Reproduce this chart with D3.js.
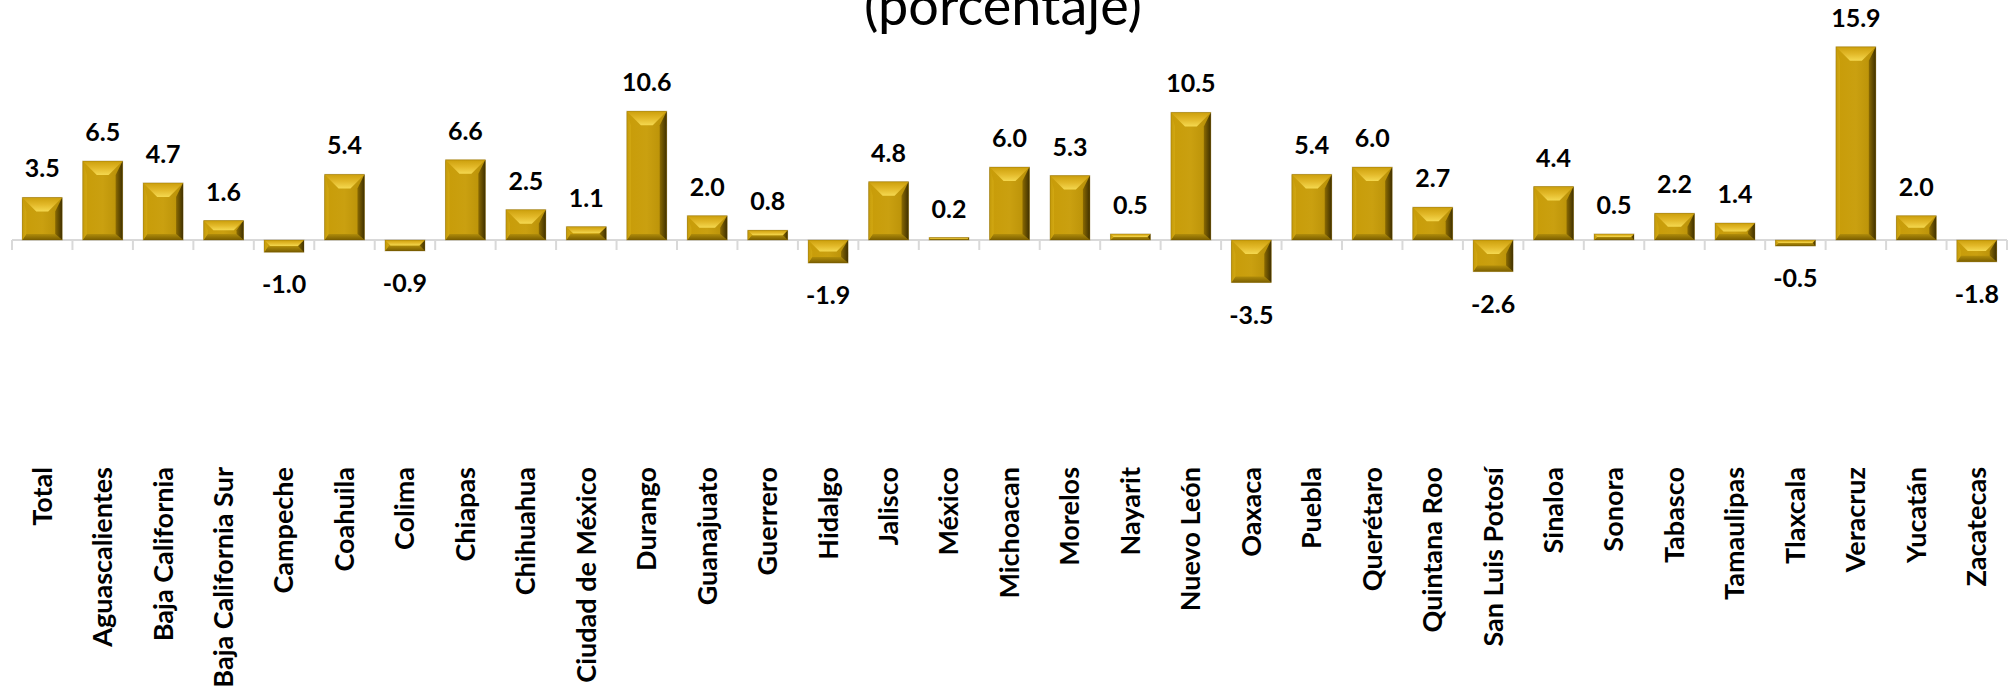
<!DOCTYPE html>
<html><head><meta charset="utf-8">
<script src="https://cdn.jsdelivr.net/npm/d3@7"></script>
<style>html,body{margin:0;padding:0;background:#fff;}svg{display:block;}</style>
</head><body>
<script>
const categories = ["Total","Aguascalientes","Baja California","Baja California Sur","Campeche","Coahuila","Colima","Chiapas","Chihuahua","Ciudad de México","Durango","Guanajuato","Guerrero","Hidalgo","Jalisco","México","Michoacan","Morelos","Nayarit","Nuevo León","Oaxaca","Puebla","Querétaro","Quintana Roo","San Luis Potosí","Sinaloa","Sonora","Tabasco","Tamaulipas","Tlaxcala","Veracruz","Yucatán","Zacatecas"];
const values = [3.5,6.5,4.7,1.6,-1.0,5.4,-0.9,6.6,2.5,1.1,10.6,2.0,0.8,-1.9,4.8,0.2,6.0,5.3,0.5,10.5,-3.5,5.4,6.0,2.7,-2.6,4.4,0.5,2.2,1.4,-0.5,15.9,2.0,-1.8];
const titleText = "(porcentaje)";

const W = 2013, H = 691;
const svg = d3.select("body").append("svg").attr("width", W).attr("height", H);
const defs = svg.append("defs");
function grad(id, x1,y1,x2,y2, stops){
  const g = defs.append("linearGradient").attr("id", id).attr("x1",x1).attr("y1",y1).attr("x2",x2).attr("y2",y2);
  stops.forEach(s=>g.append("stop").attr("offset", s[0]).attr("stop-color", s[1]));
}
grad("gFace","0","0","1","0",[[0,"#c89c08"],[0.5,"#caa010"],[1,"#b68e06"]]);
grad("gTop","0","1","0","0",[[0,"#f4d850"],[0.5,"#e2b828"],[1,"#cc9f0c"]]);
grad("gLeft","1","0","0","0",[[0,"#d2a812"],[1,"#c49a0a"]]);
grad("gRight","0","0","1","0",[[0,"#8a6a02"],[1,"#3f3000"]]);
grad("gBottom","0","0","0","1",[[0,"#b08c0a"],[1,"#7a5e00"]]);

const x = d3.scaleBand().domain(categories).range([12, 2007]).paddingInner(0.34).paddingOuter(0.17);
const y = d3.scaleLinear().domain([-4, 16]).range([240 + 4*12.15, 240 - 16*12.15]);

// title
svg.append("text").attr("x", 1003).attr("y", 25).attr("text-anchor","middle")
  .attr("font-family","Lato, sans-serif").attr("font-size", 54).attr("fill","#000").text(titleText);

// axis
const y0 = y(0);
const ax = svg.append("g");
ax.append("line").attr("x1", x.range()[0]).attr("x2", x.range()[1]).attr("y1", y0).attr("y2", y0)
  .attr("stroke","#d9d9d9").attr("stroke-width",2);
const bounds = categories.map(c => x(c) - x.step()*x.paddingInner()/2).concat([x.range()[1]]);
ax.selectAll("line.tick").data(bounds).join("line").attr("class","tick")
  .attr("x1", d=>d).attr("x2", d=>d).attr("y1", y0).attr("y2", y0+10)
  .attr("stroke","#d9d9d9").attr("stroke-width",2);

// bars
const bars = svg.append("g");
categories.forEach((c,i)=>{
  const v = values[i];
  const x0 = x(c), x1 = x0 + x.bandwidth();
  const top = Math.min(y(v), y0), bot = Math.max(y(v), y0);
  const h = bot - top, w = x1 - x0;
  const b = Math.min(14, h/2, w/2);
  const br = Math.min(7, h/2, w/2);
  const bl = Math.min(4, h/2, w/2);
  const bb = Math.min(6, h/2);
  const g = bars.append("g");
  g.append("rect").attr("x", x0).attr("y", top).attr("width", w).attr("height", h).attr("fill","url(#gFace)");
  const P = pts => pts.map(p=>p.join(",")).join(" ");
  g.append("polygon").attr("points", P([[x0,bot],[x0+bl,bot-bb],[x1-br,bot-bb],[x1,bot]])).attr("fill","url(#gBottom)");
  g.append("polygon").attr("points", P([[x0,top],[x0+bl,top+b],[x0+bl,bot-bb],[x0,bot]])).attr("fill","url(#gLeft)");
  g.append("polygon").attr("points", P([[x1,top],[x1,bot],[x1-br,bot-bb],[x1-br,top+b]])).attr("fill","url(#gRight)");
  g.append("polygon").attr("points", P([[x0,top],[x1,top],[x1-b,top+b],[x0+b,top+b]])).attr("fill","url(#gTop)");
  g.append("rect").attr("x", x0).attr("y", top).attr("width", w).attr("height", h)
    .attr("fill","none").attr("stroke","#6a5000").attr("stroke-opacity",0.3).attr("stroke-width",1);
});

// value labels
svg.append("g").selectAll("text").data(categories).join("text")
  .attr("x", c => x(c) + x.bandwidth()/2)
  .attr("y", (c,i) => values[i] >= 0 ? y(values[i]) - 20 : y(values[i]) + 41)
  .attr("text-anchor","middle").attr("font-family","Lato, sans-serif").attr("font-weight","bold")
  .attr("font-size", 25).attr("fill","#000")
  .text((c,i)=>values[i].toFixed(1));

// category labels
svg.append("g").selectAll("text").data(categories).join("text")
  .attr("transform", c => `translate(${x(c)+x.bandwidth()/2},467) rotate(-90)`)
  .attr("text-anchor","end").attr("dy","0.35em")
  .attr("font-family","Lato, sans-serif").attr("font-weight","bold").attr("font-size", 27).attr("fill","#000")
  .text(c=>c);
</script>
</body></html>
